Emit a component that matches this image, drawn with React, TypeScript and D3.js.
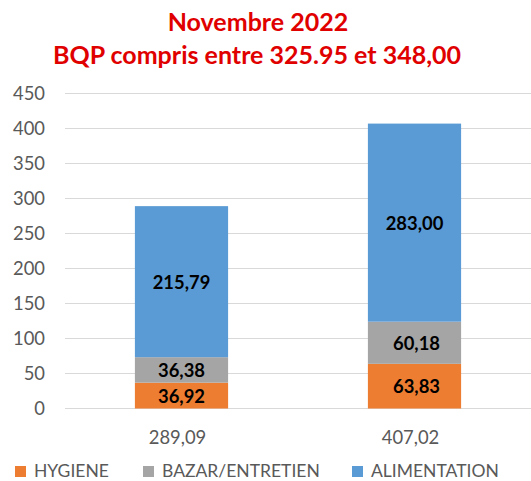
import React from 'react'
import * as d3 from 'd3'

// values
const categories = ['289,09', '407,02']
const hygiene = [36.92, 63.83]
const bazar = [36.38, 60.18]
const alimentation = [215.79, 283.0]
const seriesNames = ['HYGIENE', 'BAZAR/ENTRETIEN', 'ALIMENTATION']
const seriesColors = ['#ED7D31', '#A5A5A5', '#5B9BD5']
const yTicks = [0, 50, 100, 150, 200, 250, 300, 350, 400, 450]

const W = 531
const H = 481
const FONT = 'Lato, "Open Sans", sans-serif'

const fmt = (v: number) => v.toFixed(2).replace('.', ',')

function App() {
  const series = [hygiene, bazar, alimentation]
  const rows = categories.map((c, i) => ({
    cat: c,
    HYGIENE: hygiene[i],
    'BAZAR/ENTRETIEN': bazar[i],
    ALIMENTATION: alimentation[i],
  }))
  const stacked = d3.stack<any>().keys(seriesNames)(rows)

  const x = d3.scaleBand().domain(categories).range([65, W]).padding(0)
  const y = d3.scaleLinear().domain([0, 450]).range([408.5, 93.5])
  const barW = x.bandwidth() * 0.4

  const legendX = [15, 143, 352]

  return (
    <svg
      width={W}
      height={H}
      style={{ position: 'absolute', left: 0, top: 0, background: '#fff' }}
      fontFamily={FONT}
    >
      <text x={258} y={31} textAnchor="middle" fontSize={25} fontWeight="bold" fill="#E00000">
        Novembre 2022
      </text>
      <text x={257} y={64} textAnchor="middle" fontSize={25} fontWeight="bold" fill="#E00000">
        BQP compris entre 325.95 et 348,00
      </text>

      {/* grid + y axis */}
      {yTicks.map(t => (
        <g key={t}>
          <line x1={65} x2={W} y1={y(t)} y2={y(t)} stroke="#D9D9D9" strokeWidth={1} />
          <text
            x={45}
            y={y(t)}
            dy="0.35em"
            textAnchor="end"
            fontSize={18.4}
            fill="#595959"
          >
            {t}
          </text>
        </g>
      ))}

      {/* stacked bars */}
      {stacked.map((layer, si) => (
        <g key={layer.key} fill={seriesColors[si]}>
          {layer.map((d, i) => {
            const cx = (x(categories[i]) as number) + x.bandwidth() / 2
            return (
              <rect
                key={i}
                x={cx - barW / 2}
                y={y(d[1])}
                width={barW}
                height={y(d[0]) - y(d[1])}
              />
            )
          })}
        </g>
      ))}

      {/* data labels */}
      {stacked.map((layer, si) =>
        layer.map((d, i) => {
          const cx = (x(categories[i]) as number) + x.bandwidth() / 2
          return (
            <text
              key={`${si}-${i}`}
              x={cx + (i === 1 && si < 2 ? 2 : 0)}
              y={(y(d[0]) + y(d[1])) / 2}
              dy="0.38em"
              textAnchor="middle"
              fontSize={18.4}
              fontWeight="bold"
              fill="#000"
            >
              {fmt(series[si][i])}
            </text>
          )
        })
      )}

      {/* category labels */}
      {categories.map(c => (
        <text
          key={c}
          x={(x(c) as number) + x.bandwidth() / 2 - 4}
          y={438}
          dy="0.35em"
          textAnchor="middle"
          fontSize={18.4}
          fill="#595959"
        >
          {c}
        </text>
      ))}

      {/* legend */}
      {seriesNames.map((n, i) => (
        <g key={n}>
          <rect x={legendX[i]} y={466} width={11} height={11} fill={seriesColors[i]} />
          <text x={legendX[i] + 19} y={477} fontSize={17.5} fill="#595959">
            {n}
          </text>
        </g>
      ))}
    </svg>
  )
}

export default App
